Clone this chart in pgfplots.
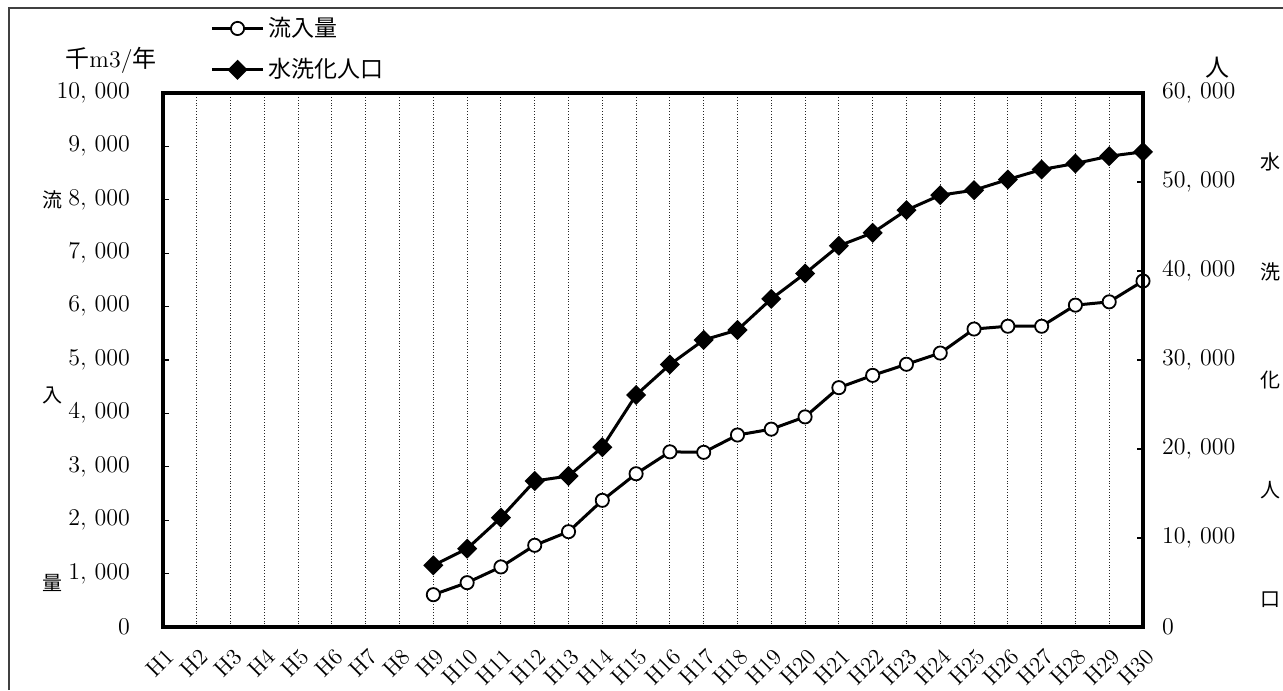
\documentclass[border=0pt]{standalone}
\usepackage{fontspec}
\usepackage{pgfplots}
\usepackage{pgfplotstable}
\pgfplotsset{compat=1.18}
\newfontfamily\jp{Noto Sans CJK JP}

\pgfplotstableread{
x y
9 605
10 830
11 1125
12 1530
13 1785
14 2372
15 2870
16 3280
17 3271
18 3595
19 3705
20 3935
21 4482
22 4712
23 4920
24 5130
25 5580
26 5632
27 5632
28 6027
29 6089
30 6479
}\inflow

\pgfplotstableread{
x y
9 6929
10 8801
11 12285
12 16404
13 16966
14 20200
15 26070
16 29490
17 32250
18 33370
19 36870
20 39720
21 42830
22 44290
23 46835
24 48520
25 49080
26 50280
27 51400
28 52080
29 52900
30 53390
}\pop

\pgfplotsset{
  inflowstyle/.style={black, line width=1.5pt, mark=*, mark size=3.3pt,
    mark options={fill=white, draw=black, line width=0.9pt, solid}},
  popstyle/.style={black, line width=1.5pt, mark=square*, mark size=2.8pt,
    mark options={fill=black, draw=black, rotate=45, solid}},
  common/.style={
    scale only axis, width=490pt, height=267pt,
    at={(81.5pt,31.5pt)}, anchor=south west,
    xmin=1, xmax=30, clip=false,
    axis line style={line width=1.6pt},
    tick align=inside, major tick length=3pt,
    tick style={black, line width=0.6pt},
    tick label style={font=\fontsize{11.5}{13}\selectfont},
    scaled y ticks=false,
    /pgf/number format/1000 sep={,\,},
  }
}

\begin{document}
\begin{tikzpicture}
\path[use as bounding box] (0,0) rectangle (641.5pt,345pt);
\draw[black!75, line width=0.6pt] (4.5pt,0) -- (4.5pt,341pt) -- (642pt,341pt);

\begin{axis}[common,
  ymin=0, ymax=10000, ytick={0,1000,...,10000},
  ytick pos=left,
  yticklabel style={xshift=-13pt},
  xtick={1,...,30},
  xticklabels={H1,H2,H3,H4,H5,H6,H7,H8,H9,H10,H11,H12,H13,H14,H15,H16,H17,H18,H19,H20,H21,H22,H23,H24,H25,H26,H27,H28,H29,H30},
  xtick pos=bottom,
  major x tick style={draw=none},
  xticklabel style={xshift=6pt, yshift=-10.5pt, rotate=45, anchor=east, font=\fontsize{11.5}{13}\selectfont},
  xmajorgrids,
  major x grid style={black!85, densely dotted, line width=0.5pt},
]
\addplot[inflowstyle] table {\inflow};
\end{axis}

\begin{axis}[common,
  ymin=0, ymax=60000, ytick={0,10000,...,60000},
  axis x line=none,
  axis y line*=right,
  ytick pos=right,
  yticklabel style={xshift=6pt},
  legend style={draw=none, fill=none, at={(0.048,1.15)}, anchor=north west,
    font=\jp\fontsize{11.5}{14}\selectfont, row sep=5.5pt, inner sep=0pt,
    cells={anchor=west}},
  legend cell align=left,
  legend image code/.code={
    \draw[mark repeat=2, mark phase=2] plot coordinates {(0cm,0cm) (0.45cm,0cm) (0.9cm,0cm)};
  },
]
\addlegendimage{inflowstyle}
\addlegendentry{流入量}
\addplot[popstyle] table {\pop};
\addlegendentry{水洗化人口}
\end{axis}

% axis titles
\node[font=\fontsize{12}{14}\selectfont] at (55.5pt,315pt) {{\jp 千}m3/{\jp 年}};
\node[font=\jp\fontsize{12}{14}\selectfont] at (608.5pt,311pt) {人};
\begin{scope}[every node/.style={font=\jp\fontsize{10}{12}\selectfont}]
\node at (26pt,245pt) {流};
\node at (26pt,147.5pt) {入};
\node at (26pt,53.5pt) {量};
\node at (635pt,264pt) {水};
\node at (635pt,209pt) {洗};
\node at (635pt,155pt) {化};
\node at (635pt,100pt) {人};
\node at (635pt,45pt) {口};
\end{scope}
\end{tikzpicture}
\end{document}
